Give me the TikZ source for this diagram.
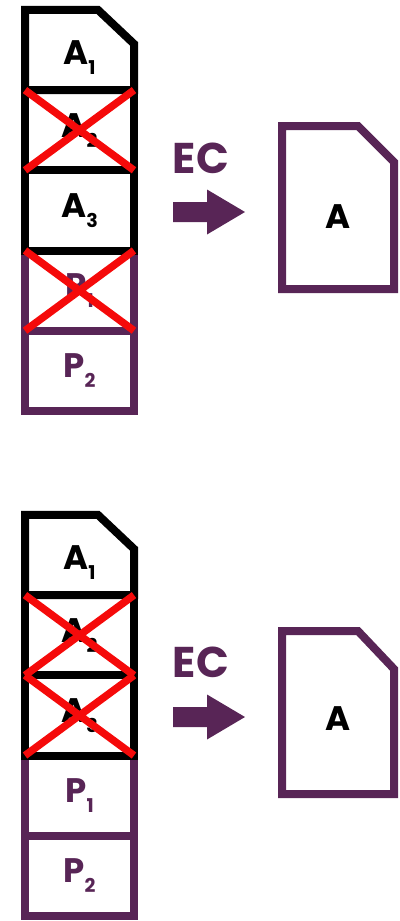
\documentclass[tikz,border=0pt]{standalone}
\usepackage{fontspec}
\setmainfont{Poppins}
\usetikzlibrary{positioning}
\definecolor{ecpurple}{RGB}{88,37,86}
\definecolor{xred}{RGB}{245,10,10}
\newcommand{\sidx}[1]{\raisebox{-10pt}{\fontsize{19}{19}\selectfont #1}}

\begin{document}
\begin{tikzpicture}[
  x=1pt,
  y=-1pt,
  font=\fontsize{34}{34}\selectfont\bfseries,
  cell/.style={rectangle, minimum width=109pt, minimum height=80.2pt,
    inner sep=0pt, outer sep=0pt, line width=8pt},
  cellA/.style={cell, draw=black, text=black},
  cellP/.style={cell, draw=ecpurple, text=ecpurple},
  cellfree/.style={cell},
  celltext/.style={text=black, inner sep=0pt},
  frameA/.style={draw=black, line width=8pt},
  xmark/.style={draw=xred, line width=7.5pt},
  docbox/.style={rectangle, minimum width=112pt, minimum height=163pt,
    inner sep=0pt, outer sep=0pt},
  docframe/.style={draw=ecpurple, line width=8pt},
  eclabel/.style={text=ecpurple, font=\fontsize{43}{43}\selectfont\bfseries},
  ecarrow/.style={fill=ecpurple}
]
\useasboundingbox (0,0) rectangle (399,921);

% Upper case: A2 and P1 are missing.
% Purple cells first, so that the black A3 border stays on top.
\node[cellP] (p2) at (79.5,370.8) {P\sidx{2}};
\node[cellP, above=0pt of p2] (p1) {P\sidx{1}};
\node[cellA, above=0pt of p1] (a3) {A\sidx{3}};
\node[cellA, above=0pt of a3] (a2) {A\sidx{2}};
\node[cellfree, above=0pt of a2] (a1) {};
\draw[frameA] (a1.south west) -- (a1.north west) -- ([xshift=-36pt]a1.north east)
  -- ([yshift=-34pt]a1.north east) -- (a1.south east) -- cycle;
\node[celltext] (a1text) at ([yshift=-8pt]a1.center) {A\sidx{1}};
\draw[xmark] (a2.north west) -- (a2.south east) (a2.south west) -- (a2.north east);
\draw[xmark] (p1.north west) -- (p1.south east) (p1.south west) -- (p1.north east);

\node[eclabel] (ec1) at (201,158) {EC};
\coordinate (tip1) at (245,212);
\fill[ecarrow] (tip1) -- ++(-38,-22.5) -- ++(0,12.5) -- ++(-34,0) -- ++(0,20)
  -- ++(34,0) -- ++(0,12.5) -- cycle;

\node[docbox] (doc1) at (338,207.5) {};
\draw[docframe] (doc1.south west) -- (doc1.north west) -- ([xshift=-36pt]doc1.north east)
  -- ([yshift=-36pt]doc1.north east) -- (doc1.south east) -- cycle;
\node[celltext] (doc1text) at ([yshift=-9pt]doc1.center) {A};

% Lower case: A2 and A3 are missing.
\node[cellP] (q2) at (79.5,875.8) {P\sidx{2}};
\node[cellP, above=0pt of q2] (q1) {P\sidx{1}};
\node[cellA, above=0pt of q1] (b3) {A\sidx{3}};
\node[cellA, above=0pt of b3] (b2) {A\sidx{2}};
\node[cellfree, above=0pt of b2] (b1) {};
\draw[frameA] (b1.south west) -- (b1.north west) -- ([xshift=-36pt]b1.north east)
  -- ([yshift=-34pt]b1.north east) -- (b1.south east) -- cycle;
\node[celltext] (b1text) at ([yshift=-8pt]b1.center) {A\sidx{1}};
\draw[xmark] (b2.north west) -- (b2.south east) (b2.south west) -- (b2.north east);
\draw[xmark] (b3.north west) -- (b3.south east) (b3.south west) -- (b3.north east);

\node[eclabel] (ec2) at (201,662) {EC};
\coordinate (tip2) at (245,717);
\fill[ecarrow] (tip2) -- ++(-38,-22.5) -- ++(0,12.5) -- ++(-34,0) -- ++(0,20)
  -- ++(34,0) -- ++(0,12.5) -- cycle;

\node[docbox] (doc2) at (338,712.5) {};
\draw[docframe] (doc2.south west) -- (doc2.north west) -- ([xshift=-36pt]doc2.north east)
  -- ([yshift=-38pt]doc2.north east) -- (doc2.south east) -- cycle;
\node[celltext] (doc2text) at ([yshift=-6pt]doc2.center) {A};

\end{tikzpicture}
\end{document}
